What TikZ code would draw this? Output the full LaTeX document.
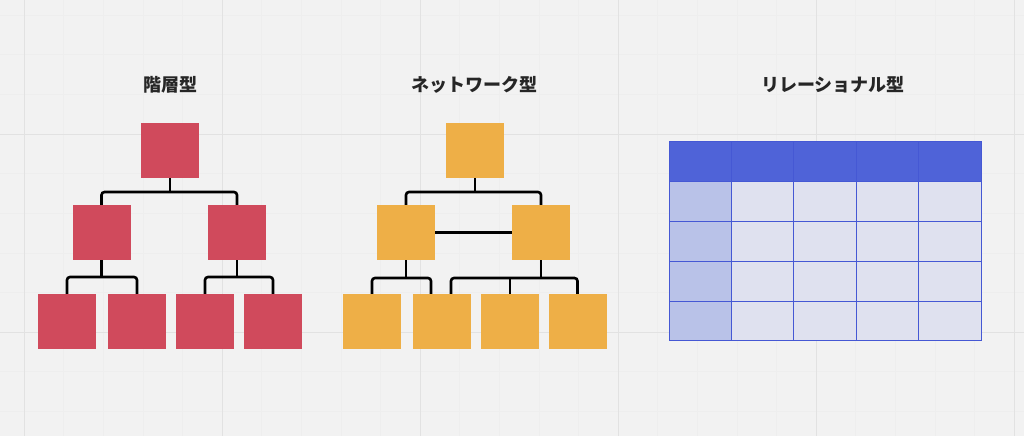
\documentclass[tikz,border=0pt]{standalone}
\usepackage{fontspec}
\newfontfamily\jpfont{Noto Sans CJK JP}
\usetikzlibrary{positioning,calc}

\definecolor{bgcol}{HTML}{F2F2F2}
\definecolor{minorline}{HTML}{EEEEEE}
\definecolor{majorline}{HTML}{E2E2E2}
\definecolor{redbox}{HTML}{D04A5C}
\definecolor{orangebox}{HTML}{EEAF47}
\definecolor{headblue}{HTML}{4F63D8}
\definecolor{gridblue}{HTML}{4558D4}
\definecolor{cellblue}{HTML}{DFE1EF}
\definecolor{keyblue}{HTML}{B9C2E8}
\definecolor{titlecol}{HTML}{262626}

\tikzset{
  box/.style={minimum width=58pt, minimum height=55pt, inner sep=0pt},
  hbox/.style={box, fill=redbox},
  nbox/.style={box, fill=orangebox},
  conn/.style={line width=2.6pt, black, rounded corners=3pt},
  title/.style={font=\jpfont\bfseries\fontsize{18}{20}\selectfont, text=titlecol}
}

\begin{document}
\begin{tikzpicture}[x=1pt, y=-1pt]
  % background and grid
  \fill[bgcol] (0,0) rectangle (1024,436);
  \useasboundingbox (0,0) rectangle (1024,436);
  \foreach \gx in {0,...,25} \draw[minorline, line width=0.6pt] (24.0+39.6*\gx-39.6,0) -- (24.0+39.6*\gx-39.6,436);
  \foreach \gy in {0,...,11} \draw[minorline, line width=0.6pt] (0,15.2+39.6*\gy) -- (1024,15.2+39.6*\gy);
  \foreach \gx in {0,...,5} \draw[majorline, line width=0.8pt] (24+198*\gx,0) -- (24+198*\gx,436);
  \foreach \gy in {0,1} \draw[majorline, line width=0.8pt] (0,134+198*\gy) -- (1024,134+198*\gy);

  % titles
  \node[title] (t1) at (170,85) {階層型};
  \node[title] (t2) at (474,85) {ネットワーク型};
  \node[title] (t3) at (833,85) {リレーショナル型};

  % hierarchical model
  \node[hbox] (h0) at (170,150.5) {};
  \node[hbox] (h1) at (101.5,232.5) {};
  \node[hbox] (h2) at (237,232.5) {};
  \node[hbox] (h11) at (67,321.5) {};
  \node[hbox] (h12) at (137,321.5) {};
  \node[hbox] (h21) at (205,321.5) {};
  \node[hbox] (h22) at (273,321.5) {};
  \coordinate (hb0) at (170,192);
  \coordinate (hb1) at (101.5,277);
  \coordinate (hb2) at (237,277);
  \draw[conn] (h0.south) -- (hb0);
  \draw[conn] (h1.north) |- (hb0) -| (h2.north);
  \draw[conn] (h1.south) -- (hb1);
  \draw[conn] (h11.north) |- (hb1) -| (h12.north);
  \draw[conn] (h2.south) -- (hb2);
  \draw[conn] (h21.north) |- (hb2) -| (h22.north);

  % network model
  \node[nbox] (n0) at (475,150.5) {};
  \node[nbox] (n1) at (406,232.5) {};
  \node[nbox] (n2) at (541,232.5) {};
  \node[nbox] (n11) at (372,321.5) {};
  \node[nbox] (n12) at (442,321.5) {};
  \node[nbox] (n21) at (510,321.5) {};
  \node[nbox] (n22) at (577.5,321.5) {};
  \coordinate (nb0) at (475,192);
  \coordinate (nb1) at (406,278);
  \coordinate (nb2) at (541,278);
  \coordinate (nb2m) at (510,278);
  \draw[conn] (n0.south) -- (nb0);
  \draw[conn] (n1.north) |- (nb0) -| (n2.north);
  \draw[conn] (n1.east) -- (n2.west);
  \draw[conn] (n1.south) -- (nb1);
  \draw[conn] (n11.north) |- (nb1) -| ($(n12.north)+(-11,0)$);
  \draw[conn] (n2.south) -- (nb2);
  \draw[conn] ($(n12.north)+(9,0)$) |- (nb2) -| (n22.north);
  \draw[conn] (n21.north) -- (nb2m);

  % relational model
  \fill[cellblue] (669,181) rectangle (981,340);
  \fill[keyblue] (669,181) rectangle (731.4,340);
  \fill[headblue] (669,141) rectangle (981,181);
  \foreach \cx in {1,...,4} \draw[gridblue, line width=0.9pt] (669+62.4*\cx,141) -- (669+62.4*\cx,340);
  \foreach \ry in {1,...,4} \draw[gridblue, line width=0.9pt] (669,141+40*\ry) -- (981,141+40*\ry);
  \draw[gridblue, line width=0.9pt] (669,141) rectangle (981,340);
\end{tikzpicture}
\end{document}
